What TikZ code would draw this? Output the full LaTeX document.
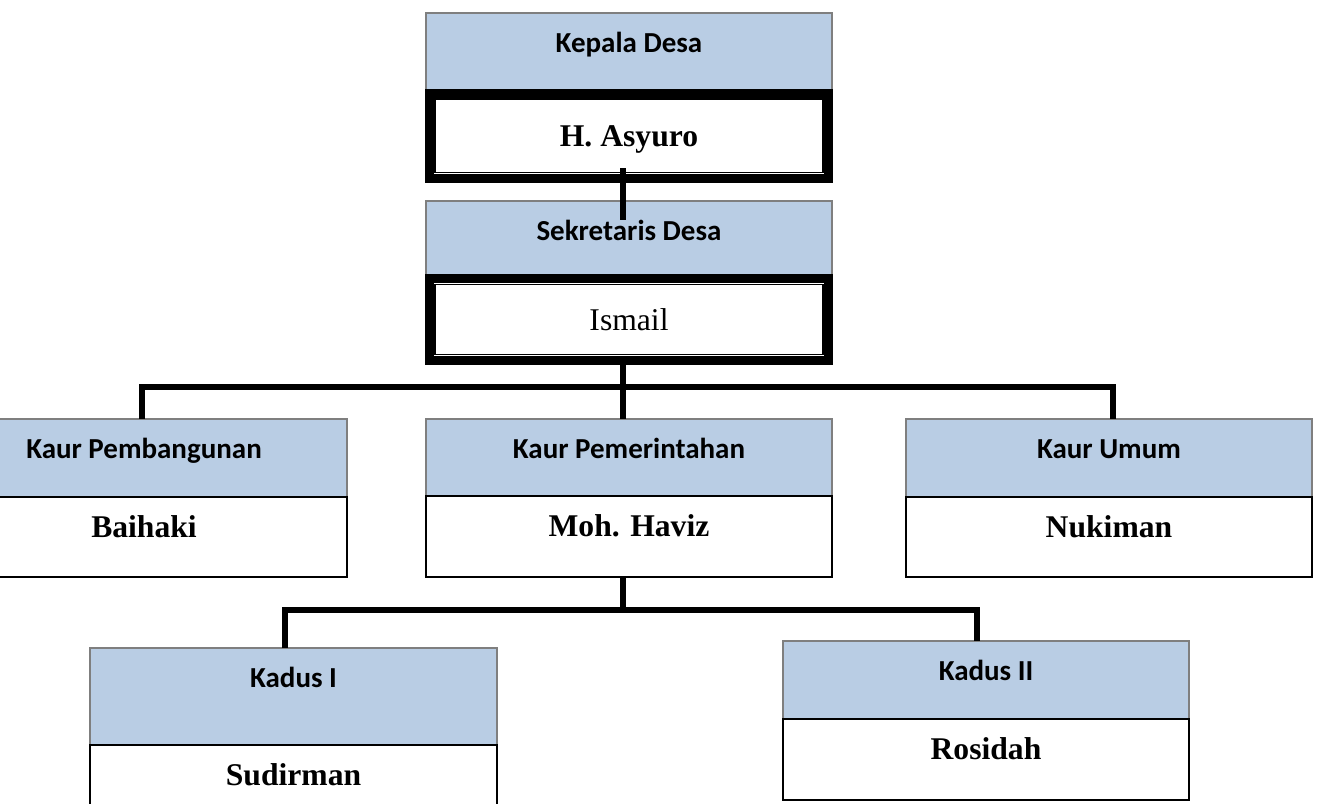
\documentclass[tikz,border=0pt]{standalone}
\usepackage{fontspec}
\setmainfont{Liberation Serif}
\newfontfamily\calibri{Carlito}
\usetikzlibrary{positioning,calc}
\definecolor{biru}{HTML}{B9CDE4}
\definecolor{kelabu}{HTML}{7F7F7F}
\tikzset{
  judul/.style={draw=kelabu, fill=biru, line width=1.3pt, outer sep=0pt, inner ysep=0pt,
    minimum width=8.13cm, text height=0.79cm, text depth=#1,
    font=\calibri\bfseries\fontsize{16.5}{20}\selectfont},
  judul/.default=0.77cm,
  nama/.style={draw=black, fill=white, line width=1pt, outer sep=0pt, inner ysep=0pt,
    minimum width=8.13cm, text height=0.82cm, text depth=#1,
    font=\bfseries\fontsize{18}{22}\selectfont},
  nama/.default=0.78cm,
  bingkai/.style={draw=black, fill=white, line width=0.19cm, outer sep=0pt,
    minimum width=7.99cm, minimum height=#1, text height=12pt, text depth=0pt,
    font=\fontsize{18}{22}\selectfont},
  tali/.style={line width=0.13cm},
}
\begin{document}
\begin{tikzpicture}[x=0.02cm, y=-0.02cm]
  \useasboundingbox (0,0) rectangle (1319,804);
  \clip (0,0) rectangle (1319,804);
  % kepala desa
  \node[judul=0.83cm, anchor=north] (kades) at (629,13) {Kepala Desa};
  \node[bingkai=1.69cm, below=0pt of kades, font=\bfseries\fontsize{18}{22}\selectfont] (asyuro) {H. Asyuro};
  % sekretaris desa
  \node[judul=0.76cm, anchor=north] (sekdes) at (629,201) {Sekretaris Desa};
  \node[bingkai=1.64cm, below=0pt of sekdes] (ismail) {Ismail};
  % kaur
  \node[judul, anchor=north] (kaurbang) at (144,419) {Kaur Pembangunan};
  \node[nama, below=0pt of kaurbang] (baihaki) {Baihaki};
  \node[judul=0.75cm, anchor=north] (kaurpem) at (629,419) {Kaur Pemerintahan};
  \node[nama=0.80cm, below=0pt of kaurpem] (haviz) {Moh. Haviz};
  \node[judul, anchor=north] (kaurumum) at (1109,419) {Kaur Umum};
  \node[nama, below=0pt of kaurumum] (nukiman) {Nukiman};
  % kadus
  \node[judul=1.15cm, anchor=north] (kadus1) at (293.5,648) {Kadus I};
  \node[nama, below=0pt of kadus1] (sudirman) {Sudirman};
  \node[judul, anchor=north] (kadus2) at (986,641) {Kadus II};
  \node[nama=0.80cm, below=0pt of kadus2] (rosidah) {Rosidah};
  % garis dalam bingkai ganda
  \foreach \n in {asyuro, ismail}
    \draw[line width=0.8pt] ([shift={(0.115cm,-0.115cm)}]\n.north west) rectangle ([shift={(-0.115cm,0.115cm)}]\n.south east);
  % garis hubung
  \coordinate (batang) at (623,0);
  \coordinate (simpang1) at (623,387);
  \coordinate (simpang2) at (623,610);
  \draw[tali] ($(asyuro.south -| batang)+(0,-10)$) -- ($(sekdes.north -| batang)+(0,19)$);
  \draw[tali] (ismail.south -| batang) -- (kaurpem.north -| batang);
  \draw[tali] ($(kaurbang.north)+(-2,0)$) |- (simpang1) -| ($(kaurumum.north)+(4,0)$);
  \draw[tali] (haviz.south -| batang) -- (simpang2);
  \draw[tali] ($(kadus1.north)+(-8.5,0)$) |- (simpang2) -| ($(kadus2.north)+(-9,0)$);
\end{tikzpicture}
\end{document}
